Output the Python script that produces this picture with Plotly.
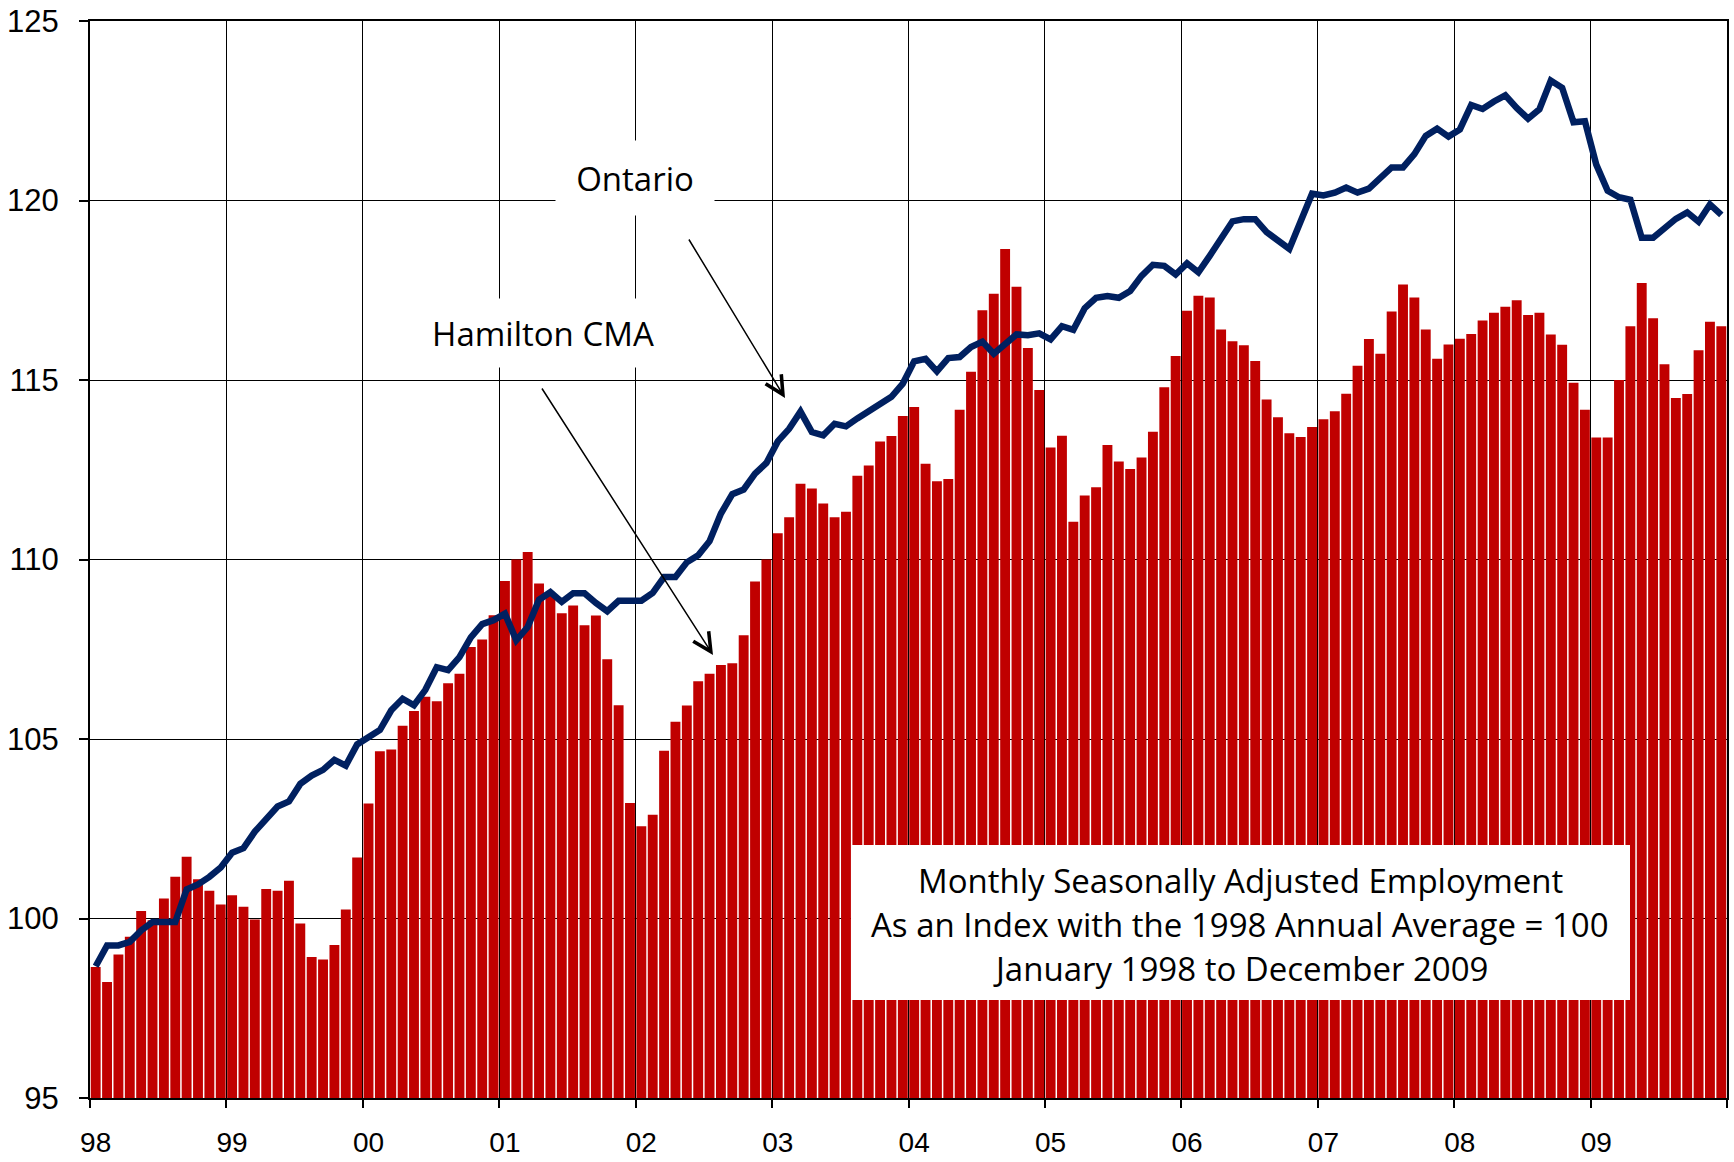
import plotly.graph_objects as go
import numpy as np

# ---------------- data ----------------
year_labels = ["98", "99", "00", "01", "02", "03", "04", "05", "06", "07", "08", "09"]

# Hamilton CMA, monthly index (bars), Jan 1998 .. Dec 2009
hamilton = [
    98.65, 98.23, 99.00, 99.49, 100.21, 99.95, 100.56, 101.16, 101.72, 101.09, 100.77, 100.39,   # 1998
    100.65, 100.33, 99.97, 100.82, 100.77, 101.05, 99.86, 98.93, 98.86, 99.26, 100.25, 101.70,   # 1999
    103.20, 104.66, 104.71, 105.37, 105.78, 106.18, 106.05, 106.55, 106.82, 107.56, 107.77, 108.45,  # 2000
    109.40, 110.00, 110.21, 109.33, 109.06, 108.50, 108.72, 108.17, 108.44, 107.22, 105.94, 103.22,  # 2001
    102.57, 102.89, 104.67, 105.48, 105.93, 106.61, 106.82, 107.06, 107.11, 107.89, 109.39, 110.00,  # 2002
    110.73, 111.18, 112.11, 111.98, 111.56, 111.18, 111.33, 112.33, 112.62, 113.29, 113.44, 114.00,  # 2003
    114.25, 112.67, 112.18, 112.24, 114.17, 115.23, 116.94, 117.40, 118.65, 117.60, 115.89, 114.72,  # 2004
    113.12, 113.45, 111.05, 111.78, 112.01, 113.19, 112.73, 112.52, 112.84, 113.56, 114.80, 115.67,  # 2005
    116.93, 117.35, 117.30, 116.41, 116.08, 115.97, 115.53, 114.46, 113.96, 113.52, 113.41, 113.69,  # 2006
    113.91, 114.13, 114.62, 115.40, 116.14, 115.73, 116.91, 117.66, 117.30, 116.41, 115.59, 115.99,  # 2007
    116.15, 116.28, 116.66, 116.87, 117.04, 117.22, 116.81, 116.87, 116.27, 115.98, 114.92, 114.17,  # 2008
    113.40, 113.40, 115.00, 116.50, 117.70, 116.72, 115.44, 114.50, 114.61, 115.83, 116.62, 116.50,  # 2009
]

# Ontario, monthly index (line), Jan 1998 .. Dec 2009
ontario = [
    98.67, 99.25, 99.25, 99.35, 99.67, 99.90, 99.90, 99.90, 100.81, 100.95, 101.16, 101.42,   # 1998
    101.83, 101.96, 102.42, 102.75, 103.12, 103.26, 103.75, 103.98, 104.14, 104.42, 104.26, 104.85,  # 1999
    105.05, 105.25, 105.80, 106.12, 105.94, 106.37, 107.00, 106.92, 107.28, 107.83, 108.20, 108.31,  # 2000
    108.49, 107.75, 108.12, 108.88, 109.09, 108.82, 109.06, 109.06, 108.79, 108.56, 108.85, 108.85,  # 2001
    108.85, 109.07, 109.51, 109.51, 109.92, 110.12, 110.51, 111.28, 111.82, 111.95, 112.39, 112.69,  # 2002
    113.29, 113.64, 114.12, 113.55, 113.46, 113.78, 113.71, 113.93, 114.12, 114.31, 114.53, 114.90,  # 2003
    115.52, 115.59, 115.24, 115.61, 115.64, 115.92, 116.07, 115.73, 116.02, 116.27, 116.25, 116.30,  # 2004
    116.13, 116.50, 116.40, 117.00, 117.29, 117.34, 117.29, 117.48, 117.90, 118.21, 118.18, 117.94,  # 2005
    118.25, 118.00, 118.46, 118.95, 119.42, 119.48, 119.48, 119.12, 118.86, 118.65, 119.42, 120.19,  # 2006
    120.14, 120.22, 120.36, 120.22, 120.33, 120.60, 120.92, 120.92, 121.29, 121.80, 122.00, 121.78,  # 2007
    121.98, 122.66, 122.55, 122.76, 122.93, 122.58, 122.28, 122.54, 123.34, 123.14, 122.18, 122.21,  # 2008
    121.00, 120.27, 120.09, 120.02, 118.96, 118.96, 119.21, 119.49, 119.67, 119.41, 119.89, 119.60,  # 2009
]

box_lines = [
    "Monthly Seasonally Adjusted Employment",
    "As an Index with the 1998 Annual Average = 100",
    "January 1998 to December 2009",
]

# ---------------- layout geometry ----------------
W, H = 1734, 1162
L, R, T, B = 90, 7, 21, 64
PW, PH = W - L - R, H - T - B


def px(x):
    return (x - L) / PW


def py(y):
    return (H - B - y) / PH


n = len(hamilton)
idx = np.arange(n)
months_per_year = 12
year_starts = idx[::months_per_year]
year_bounds = np.append(year_starts, n) - 0.5

BAR_RED = "#C00000"
NAVY = "#002060"
Y_TICK_FONT = dict(family="Liberation Sans, Arial, sans-serif", size=31, color="black")
X_TICK_FONT = dict(family="Liberation Sans, Arial, sans-serif", size=28, color="black")
ANN_FONT = "Open Sans, Noto Sans, sans-serif"

fig = go.Figure()
fig.add_trace(go.Bar(x=idx, y=hamilton, marker=dict(color=BAR_RED, line=dict(width=0)),
                     name="Hamilton CMA"))
fig.add_trace(go.Scatter(x=idx, y=ontario, mode="lines",
                         line=dict(color=NAVY, width=6.5), name="Ontario"))

fig.update_layout(
    width=W, height=H,
    margin=dict(l=L, r=R, t=T, b=B, pad=0, autoexpand=False),
    paper_bgcolor="white", plot_bgcolor="white",
    showlegend=False, bargap=0.13,
    xaxis=dict(
        range=[-0.5, n - 0.5], automargin=False,
        tickmode="array", tickvals=year_starts, ticktext=year_labels,
        ticks="", showgrid=False, zeroline=False,
        showline=True, mirror=True, linecolor="black", linewidth=2,
        tickfont=X_TICK_FONT, ticklabelstandoff=18,
        minor=dict(tickmode="array", tickvals=year_bounds, ticks="outside",
                   ticklen=8, tickwidth=1.5, tickcolor="black",
                   showgrid=True, gridcolor="black", gridwidth=1.3),
    ),
    yaxis=dict(
        range=[95, 125], tick0=95, dtick=5, automargin=False,
        showgrid=True, gridcolor="black", gridwidth=1.3, zeroline=False,
        ticks="outside", ticklen=9, tickwidth=2, tickcolor="black",
        showline=True, mirror=True, linecolor="black", linewidth=2,
        tickfont=Y_TICK_FONT, ticklabelstandoff=14,
    ),
)

# white text box (bottom right)
fig.add_shape(type="rect", xref="paper", yref="paper",
              x0=px(851), x1=px(1630), y0=py(1000), y1=py(845),
              fillcolor="white", line=dict(width=0), layer="above")
for line_text, yc in zip(box_lines, [880, 924, 968]):
    fig.add_annotation(xref="paper", yref="paper", x=px(1240), y=py(yc),
                       xanchor="center", yanchor="middle", showarrow=False,
                       text=line_text, font=dict(family=ANN_FONT, size=33, color="black"))

# series labels with white background
fig.add_annotation(xref="paper", yref="paper", x=px(635), y=py(178),
                   xanchor="center", yanchor="middle", showarrow=False,
                   text="Ontario", bgcolor="white", width=158, height=74, borderpad=0,
                   font=dict(family=ANN_FONT, size=33, color="black"))
fig.add_annotation(xref="paper", yref="paper", x=px(543), y=py(333),
                   xanchor="center", yanchor="middle", showarrow=False,
                   text="Hamilton CMA", bgcolor="white", width=250, height=68, borderpad=0,
                   font=dict(family=ANN_FONT, size=33, color="black"))

# arrows
for head, tail in [((785, 398), (688, 238)), ((713, 655), (541, 387))]:
    fig.add_annotation(xref="paper", yref="paper", x=px(head[0]), y=py(head[1]),
                       ax=tail[0] - head[0], ay=tail[1] - head[1],
                       text="", showarrow=True, arrowhead=5, arrowsize=2.4,
                       arrowwidth=1.5, arrowcolor="black", standoff=0)

fig.write_html(
    "out.html",
    config={"displayModeBar": False},
    post_script="document.body.style.margin='0';document.body.style.padding='0';"
                "document.body.style.overflow='hidden';",
)
